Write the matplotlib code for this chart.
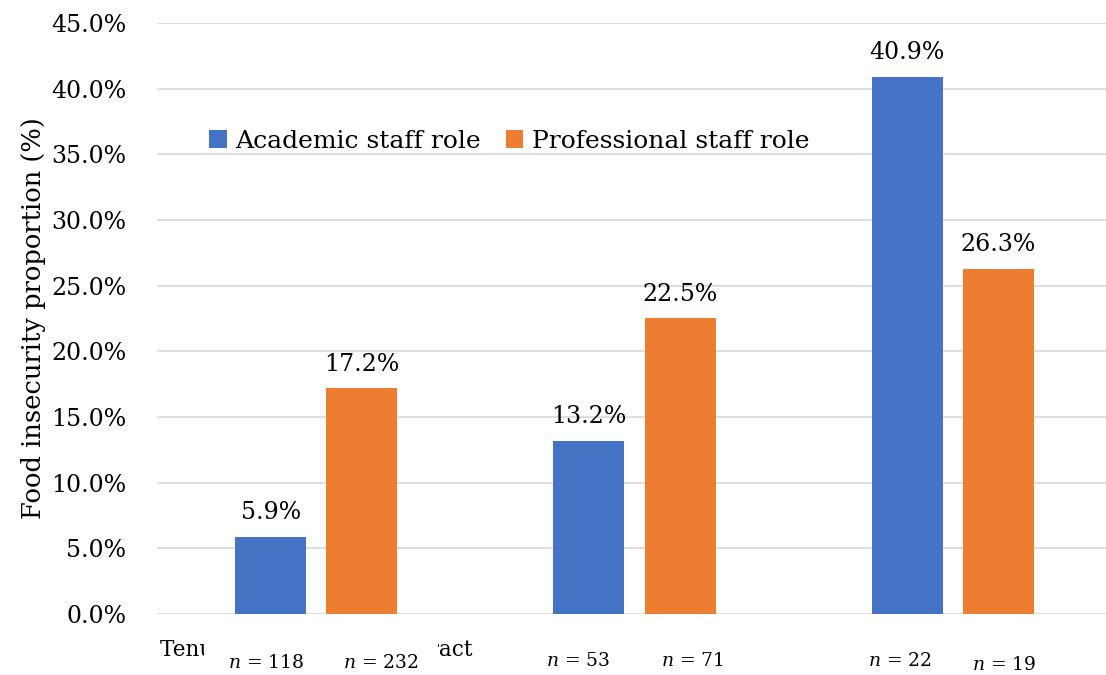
import matplotlib
matplotlib.use("Agg")
import matplotlib.pyplot as plt
import numpy as np

categories = ["Tenured/continuing contract", "Fixed-term contract", "Casual"]
series_names = ["Academic staff role", "Professional staff role"]
academic = [5.9, 13.2, 40.9]
professional = [17.2, 22.5, 26.3]
n_academic = [118, 53, 22]
n_professional = [232, 71, 19]
yticks = [0, 5, 10, 15, 20, 25, 30, 35, 40, 45]

colors = ["#4472C4", "#ED7D31"]
plt.rcParams["font.family"] = ["DejaVu Serif"]
plt.rcParams["mathtext.fontset"] = "dejavuserif"

fig = plt.figure(figsize=(11.06, 6.75), dpi=100)
ax = fig.add_axes([157/1106, 61/675, (1112-157)/1106, 591/675])

x = np.arange(len(categories))
w = 0.223
off = 0.143
for vals, o, c, name in [(academic, -off, colors[0], series_names[0]),
                         (professional, off, colors[1], series_names[1])]:
    bars = ax.bar(x + o, vals, width=w, color=c, label=name, zorder=3)
    for b, v in zip(bars, vals):
        ax.annotate(f"{v:.1f}%", (b.get_x() + b.get_width()/2, v),
                    xytext=(0, 9), textcoords="offset points",
                    ha="center", va="bottom", fontsize=17)

ax.set_xlim(-0.5, 2.5)
ax.set_ylim(0, 45)
ax.set_yticks(yticks)
ax.set_yticklabels([f"{t:.1f}%" for t in yticks], fontsize=17)
ax.yaxis.grid(True, color="#d9d9d9", linewidth=1.2, zorder=0)
ax.set_axisbelow(True)
for s in ax.spines.values():
    s.set_visible(False)
ax.tick_params(axis="both", length=0)
ax.tick_params(axis="y", pad=22)
# only the first category label is (partly) visible in the reference
ax.set_xticks(x[:1])
ax.set_xticklabels(categories[:1], fontsize=15.5)
ax.tick_params(axis="x", pad=18)
ax.set_ylabel("Food insecurity proportion (%)", fontsize=18.5, labelpad=4)

# n labels (white text boxes sit over the category label)
n_off_a = [(-3, -35), (-8, -34), (-5, -34)]
n_off_p = [(14, -35), (9, -34), (4, -37)]
for i in range(len(categories)):
    ax.annotate(f"$n$ = {n_academic[i]}", (x[i] - off, 0), xytext=n_off_a[i],
                textcoords="offset points", ha="center", va="center",
                fontsize=13.5, annotation_clip=False,
                bbox=dict(boxstyle="square,pad=1.3", fc="white", ec="none"),
                zorder=11)
    ax.annotate(f"$n$ = {n_professional[i]}", (x[i] + off, 0), xytext=n_off_p[i],
                textcoords="offset points", ha="center", va="center",
                fontsize=13.5, annotation_clip=False,
                bbox=dict(boxstyle="square,pad=1.0", fc="white", ec="none"),
                zorder=10)

ax.legend(loc="center left", bbox_to_anchor=(0.031, 0.80), ncol=2, frameon=False,
          fontsize=18, handlelength=0.7, handleheight=0.7, handletextpad=0.35,
          columnspacing=1.0)

fig.savefig("out.png", dpi=100)
